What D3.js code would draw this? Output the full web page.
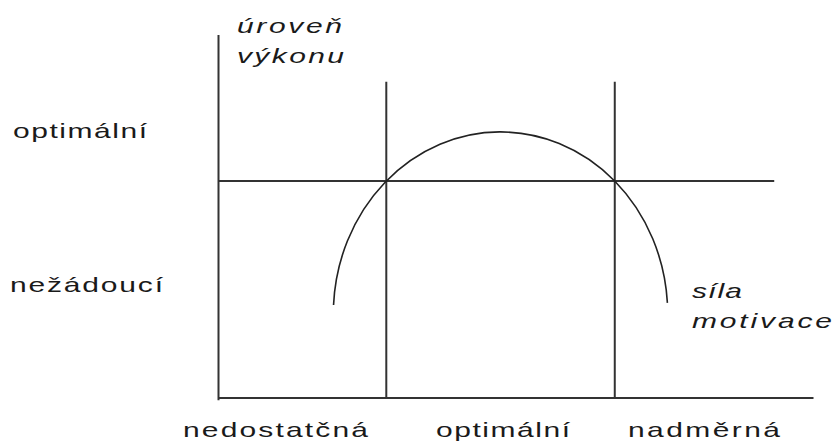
<!DOCTYPE html>
<html><head><meta charset="utf-8">
<script src="https://cdn.jsdelivr.net/npm/d3@7/dist/d3.min.js"></script>
<style>html,body{margin:0;padding:0;background:#fff;}svg{display:block;}</style>
</head><body>
<script>
// ---- data ----
const motivationLabels = ["nedostatčná", "optimální", "nadměrná"];
const performanceLabels = ["optimální", "nežádoucí"];
const yAxisTitle = ["úroveň", "výkonu"];
const xAxisTitle = ["síla", "motivace"];
const zoneBounds = [28.2, 66.6];          // motivation values of the two vertical lines
const optimalThreshold = 59.8;            // performance value of the horizontal line
const curvePeak = [47.4, 73.3];           // motivation, performance at the top of the curve
const curveHalfWidth = 28.1;              // motivation units
const curveCenterY = 23.1;                // performance level of the curve's widest point
const curveEndY = [25.6, 26.2];           // performance level where the curve ends (left, right)

const W = 833, H = 441;
const svg = d3.select("body").append("svg").attr("width", W).attr("height", H);
const x = d3.scaleLinear().domain([0, 100]).range([218.5, 813.5]);
const y = d3.scaleLinear().domain([0, 100]).range([398, 35]);

const stroke = "#333";
const g = svg.append("g");

// axes
g.append("line").attr("x1", x(0)).attr("x2", x(0)).attr("y1", y(100)).attr("y2", y(-0.6))
  .attr("stroke", stroke).attr("stroke-width", 2);
g.append("line").attr("x1", x(0)).attr("x2", x(100)).attr("y1", y(0)).attr("y2", y(0))
  .attr("stroke", stroke).attr("stroke-width", 2);
// threshold line
g.append("line").attr("x1", x(0)).attr("x2", x(93.4)).attr("y1", y(optimalThreshold)).attr("y2", y(optimalThreshold))
  .attr("stroke", stroke).attr("stroke-width", 2);
// zone boundaries
g.selectAll(".vb").data(zoneBounds).join("line")
  .attr("x1", d => x(d)).attr("x2", d => x(d)).attr("y1", y(87.1)).attr("y2", y(0))
  .attr("stroke", stroke).attr("stroke-width", 2);

// curve (elliptical arc with fixed centre)
const cx = x(curvePeak[0]), cy = y(curveCenterY);
const rx = x(curvePeak[0] + curveHalfWidth) - cx;
const ry = cy - y(curvePeak[1]);
const endPt = (py, side) => {
  const yy = y(py);
  const k = Math.sqrt(Math.max(0, 1 - Math.pow((yy - cy) / ry, 2)));
  return [cx + side * rx * k, yy];
};
const p0 = endPt(curveEndY[0], -1), p1 = endPt(curveEndY[1], 1);
g.append("path")
  .attr("d", `M${p0[0]},${p0[1]} A${rx},${ry} 0 0 1 ${p1[0]},${p1[1]}`)
  .attr("fill", "none").attr("stroke", "#222").attr("stroke-width", 1.6);

// text helper: glyphs widened, remaining width made up by letter spacing
const SX = 1.5;
function label(txt, x0, x1, base, italic) {
  svg.append("text").attr("transform", `translate(${x0},${base}) scale(${SX},1)`)
    .attr("textLength", (x1 - x0) / SX).attr("lengthAdjust", "spacing")
    .attr("font-family", "'Liberation Sans', Arial, sans-serif")
    .attr("font-size", 20).attr("font-style", italic ? "italic" : "normal")
    .attr("fill", "#1a1a1a").text(txt);
}
// y-axis title
label(yAxisTitle[0], 237, 342, 33, true);
label(yAxisTitle[1], 237, 344, 63, true);
// x-axis title
label(xAxisTitle[0], 692, 742, 298, true);
label(xAxisTitle[1], 692, 832, 328, true);
// performance labels
label(performanceLabels[0], 13, 147, 138, false);
label(performanceLabels[1], 10, 163, 292, false);
// motivation labels
const mPos = [[183, 368], [436, 570], [628, 780]];
motivationLabels.forEach((t, i) => label(t, mPos[i][0], mPos[i][1], 437, false));
</script>
</body></html>
